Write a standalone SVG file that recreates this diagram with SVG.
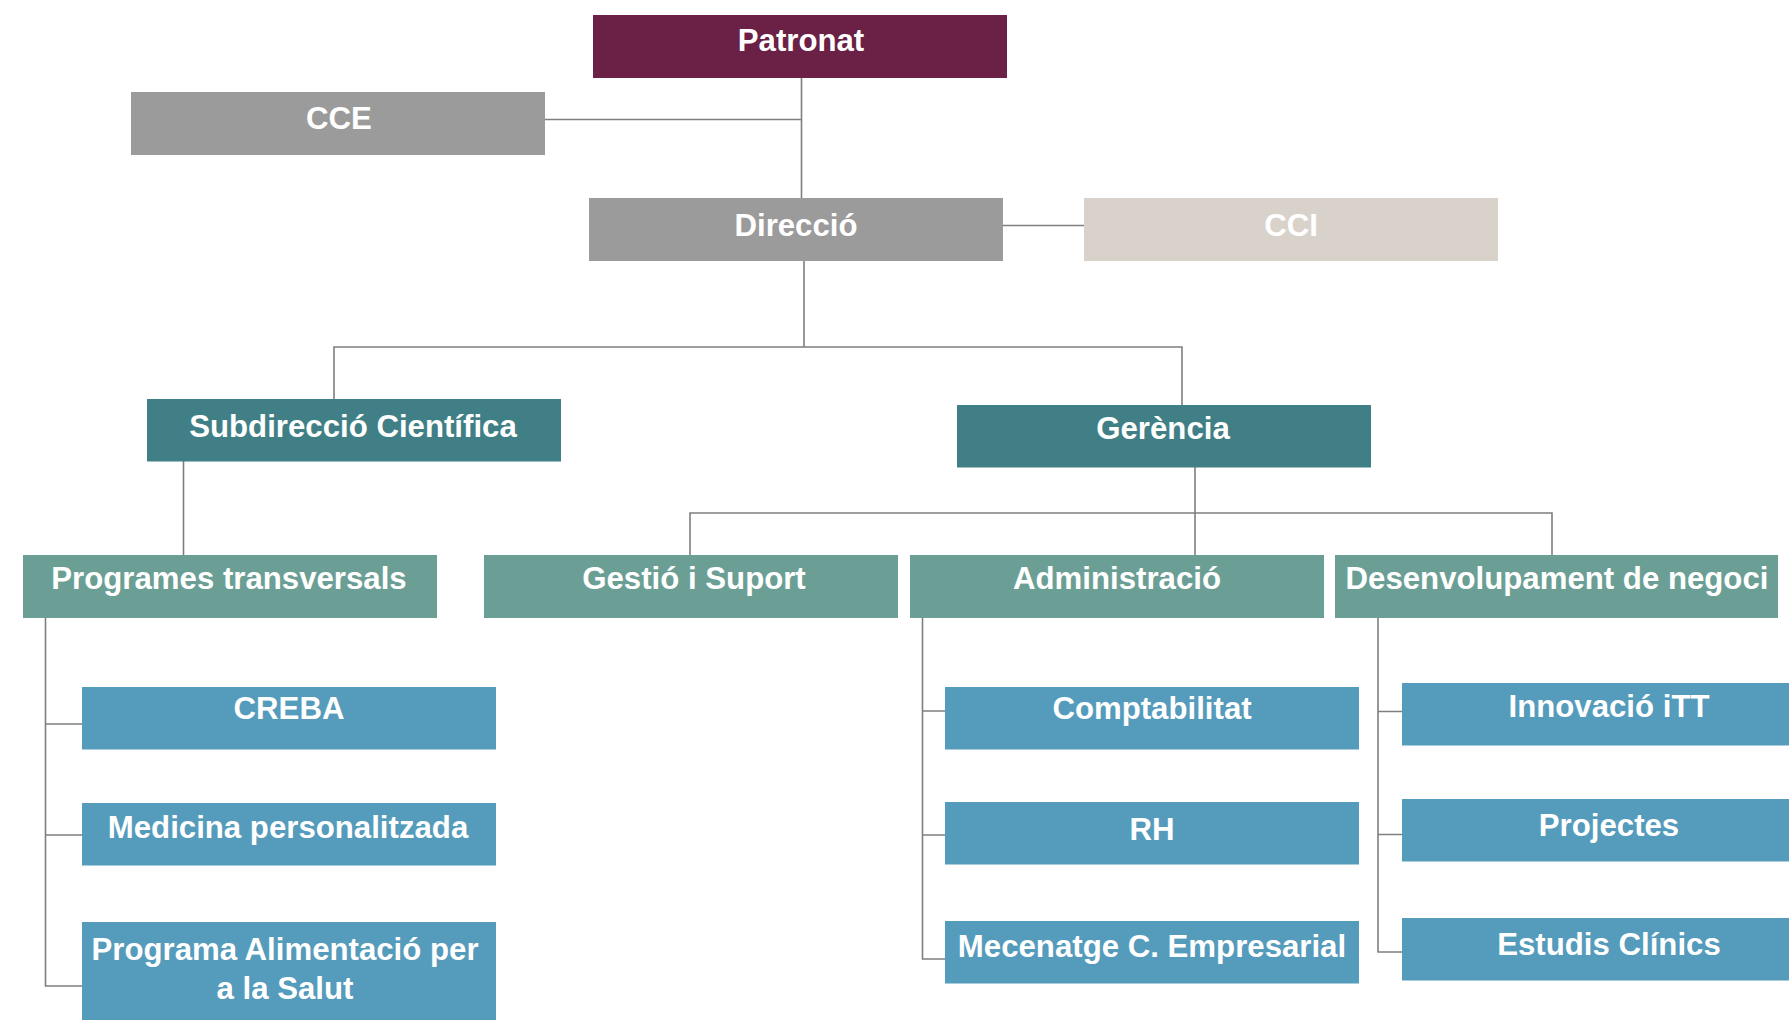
<svg xmlns="http://www.w3.org/2000/svg" width="1789" height="1020" viewBox="0 0 1789 1020">
<style>
text{font-family:"Liberation Sans",Arial,Helvetica,sans-serif;font-weight:bold;font-size:31.2px;fill:#ffffff;text-anchor:middle}
.c{fill:none;stroke:#7f7f7f;stroke-width:1.6}
.pat{fill:#6a2145}
.gry{fill:#9b9b9b}
.lt{fill:#d9d2cb}
.tl{fill:#417f86}
.sg{fill:#6b9f95}
.bl{fill:#559bbb}
</style>
<rect width="1789" height="1020" fill="#ffffff"/>
<g id="connectors">
<path class="c" d="M801.5 78V198M545 119.5H801.5"/>
<path class="c" d="M1003 225.5H1084"/>
<path class="c" d="M804 261V347M334 399V347H1182V405"/>
<path class="c" d="M183.5 461V555"/>
<path class="c" d="M1195 467V555M690 555V513H1552V555"/>
<path class="c" d="M45.5 618V986H82M45.5 724H82M45.5 835H82"/>
<path class="c" d="M922.5 618V959H945M922.5 711H945M922.5 835H945"/>
<path class="c" d="M1378 618V952H1402M1378 711.5H1402M1378 834.5H1402"/>
</g>
<g id="patronat"><rect class="pat" x="593" y="15" width="414" height="63"/><text x="801" y="50.7">Patronat</text></g>
<g id="cce"><rect class="gry" x="131" y="92" width="414" height="63"/><text x="339" y="128.5">CCE</text></g>
<g id="direccio"><rect class="gry" x="589" y="198" width="414" height="63"/><text x="796" y="235.7">Direcció</text></g>
<g id="cci"><rect class="lt" x="1084" y="198" width="414" height="63"/><text x="1291" y="235.7">CCI</text></g>
<g id="subdireccio"><rect class="tl" x="147" y="399" width="414" height="62.5"/><text x="353" y="437">Subdirecció Científica</text></g>
<g id="gerencia"><rect class="tl" x="957" y="405" width="414" height="62.5"/><text x="1163" y="438.5">Gerència</text></g>
<g id="programes"><rect class="sg" x="23" y="555" width="414" height="63"/><text x="229" y="589">Programes transversals</text></g>
<g id="gestio"><rect class="sg" x="484" y="555" width="414" height="63"/><text x="694" y="589">Gestió i Suport</text></g>
<g id="administracio"><rect class="sg" x="910" y="555" width="414" height="63"/><text x="1117" y="589">Administració</text></g>
<g id="desenvolupament"><rect class="sg" x="1335" y="555" width="443" height="63"/><text x="1557" y="589">Desenvolupament de negoci</text></g>
<g id="creba"><rect class="bl" x="82" y="687" width="414" height="62.5"/><text x="289" y="719">CREBA</text></g>
<g id="medicina"><rect class="bl" x="82" y="803" width="414" height="62.5"/><text x="288" y="838">Medicina personalitzada</text></g>
<g id="alimentacio"><rect class="bl" x="82" y="922" width="414" height="110"/><text x="285" y="960">Programa Alimentació per</text><text x="285" y="998.5">a la Salut</text></g>
<g id="comptabilitat"><rect class="bl" x="945" y="687" width="414" height="62.5"/><text x="1152" y="719">Comptabilitat</text></g>
<g id="rh"><rect class="bl" x="945" y="802" width="414" height="62.5"/><text x="1152" y="839.5">RH</text></g>
<g id="mecenatge"><rect class="bl" x="945" y="921" width="414" height="62.5"/><text x="1152" y="957">Mecenatge C. Empresarial</text></g>
<g id="innovacio"><rect class="bl" x="1402" y="683" width="414" height="62.5"/><text x="1609" y="716.7">Innovació iTT</text></g>
<g id="projectes"><rect class="bl" x="1402" y="799" width="414" height="62.5"/><text x="1609" y="835.5">Projectes</text></g>
<g id="estudis"><rect class="bl" x="1402" y="918" width="414" height="62.5"/><text x="1609" y="955">Estudis Clínics</text></g>
</svg>
